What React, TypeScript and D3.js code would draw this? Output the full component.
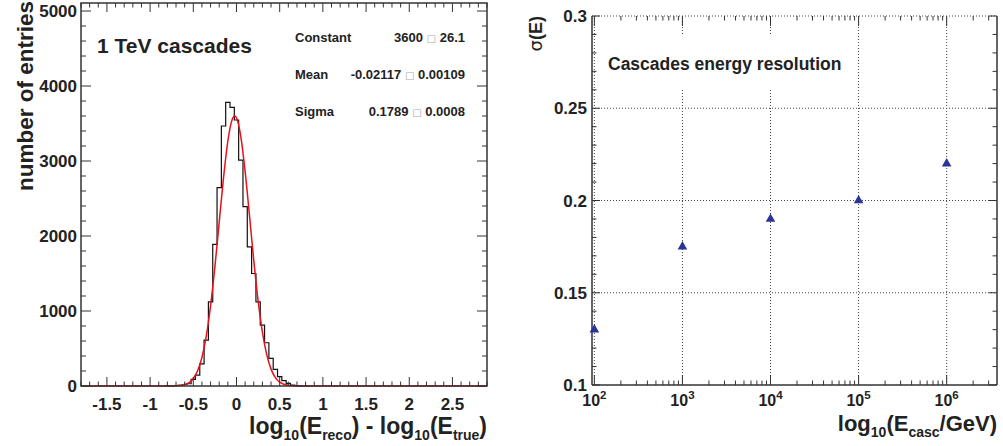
import React from 'react';
import * as d3 from 'd3';

const W = 1003;
const H = 446;
const FONT = '"Liberation Sans", Arial, Helvetica, sans-serif';

// left panel: reco - true for 1 TeV cascades, bins of 0.05
const BIN_W = 0.05;
const binCenters = [-0.8, -0.75, -0.7, -0.65, -0.6, -0.55, -0.5, -0.45, -0.4, -0.35, -0.3, -0.25, -0.2, -0.15, -0.1, -0.05,
  0, 0.05, 0.1, 0.15, 0.2, 0.25, 0.3, 0.35, 0.4, 0.45, 0.5, 0.55, 0.6, 0.65, 0.7, 0.75, 0.8];
const binCounts = [2, 3, 5, 9, 20, 30, 89, 146, 295, 612, 1121, 1888, 2644, 3467, 3782, 3716,
  3547, 3013, 2391, 1855, 1500, 1121, 813, 577, 368, 221, 124, 71, 35, 13, 5, 3, 1];

// red fit curve
const fitX = [-1.8, -0.9, -0.8, -0.7, -0.6, -0.5, -0.45, -0.4, -0.35, -0.3, -0.25, -0.2, -0.15, -0.1, -0.05, -0.02,
  0, 0.05, 0.1, 0.15, 0.2, 0.25, 0.3, 0.35, 0.4, 0.45, 0.5, 0.6, 0.7, 0.8, 2.9];
const fitY = [0, 0, 0, 3, 19, 100, 203, 382, 665, 1069, 1589, 2185, 2778, 3267, 3554, 3600,
  3575, 3326, 2862, 2278, 1676, 1141, 719, 418, 225, 112, 52, 9, 1, 0, 0];

const histXTicks = [-1.5, -1, -0.5, 0, 0.5, 1, 1.5, 2, 2.5];
const histYTicks = [0, 1000, 2000, 3000, 4000, 5000];

const statNames = ['Constant', 'Mean', 'Sigma'];
const statValues = ['3600', '-0.02117', '0.1789'];
const statErrors = ['26.1', '0.00109', '0.0008'];

// right panel: energy resolution
const energies = [1e2, 1e3, 1e4, 1e5, 1e6];
const sigmas = [0.13, 0.175, 0.19, 0.2, 0.22];
const decades = [2, 3, 4, 5, 6];
const sigmaTicks = [0.1, 0.15, 0.2, 0.25, 0.3];

const L = { left: 81, right: 487, top: 3, bottom: 386 };
const R = { left: 592, right: 997, top: 16, bottom: 385 };

const AXIS = '#333';
const GRID = '#444';

const HistPanel = () => {
  const x = d3.scaleLinear().domain([-1.8, 2.9]).range([L.left, L.right]);
  const y = d3.scaleLinear().domain([0, 5107]).range([L.bottom, L.top]);

  const pts: [number, number][] = [[binCenters[0] - BIN_W / 2, 0]];
  binCenters.forEach((c, i) => pts.push([c - BIN_W / 2, binCounts[i]]));
  pts.push([binCenters[binCenters.length - 1] + BIN_W / 2, 0]);
  const histPath = d3.line<[number, number]>()
    .x(d => x(d[0]))
    .y(d => y(d[1]))
    .curve(d3.curveStepAfter)(pts);

  const fitPath = d3.line<number>()
    .x(d => x(d))
    .y((d, i) => y(fitY[i]))
    .curve(d3.curveMonotoneX)(fitX);

  const xMinor = d3.range(-18, 30).map(i => i / 10);
  const yMinor = d3.range(0, 5001, 200);
  const isHalf = (v: number) => Math.abs(v * 2 - Math.round(v * 2)) < 1e-6;

  return (
    <g fontFamily={FONT} fontWeight="bold" fill="#222">
      <path d={histPath || ''} fill="none" stroke="#111" strokeWidth={1.2} />
      <path d={fitPath || ''} fill="none" stroke="#e8101a" strokeWidth={1.5} />

      <rect x={L.left} y={L.top} width={L.right - L.left} height={L.bottom - L.top}
        fill="none" stroke={AXIS} strokeWidth={1.5} />
      {xMinor.map(v => {
        const len = isHalf(v) ? 9 : 4.5;
        return (
          <g key={'xt' + v} stroke={AXIS} strokeWidth={1}>
            <line x1={x(v)} x2={x(v)} y1={L.bottom} y2={L.bottom - len} />
            <line x1={x(v)} x2={x(v)} y1={L.top} y2={L.top + len} />
          </g>
        );
      })}
      {yMinor.map(v => {
        const len = v % 1000 === 0 ? 10 : 5;
        return (
          <g key={'yt' + v} stroke={AXIS} strokeWidth={1}>
            <line x1={L.left} x2={L.left + len} y1={y(v)} y2={y(v)} />
            <line x1={L.right} x2={L.right - len} y1={y(v)} y2={y(v)} />
          </g>
        );
      })}
      {histXTicks.map(v => (
        <text key={'xl' + v} x={x(v)} y={410} textAnchor="middle" fontSize={17}>{String(v)}</text>
      ))}
      {histYTicks.map(v => (
        <text key={'yl' + v} x={77} y={y(v)} dy="0.36em" textAnchor="end" fontSize={17}>{String(v)}</text>
      ))}

      <text transform="translate(33,1) rotate(-90)" textAnchor="end" fontSize={22.5}>number of entries</text>
      <text x={L.right} y={434} textAnchor="end" fontSize={23}>
        log<tspan fontSize={14} dy={6}>10</tspan><tspan dy={-6}>(E</tspan><tspan fontSize={14} dy={6}>reco</tspan>
        <tspan dy={-6}>) - log</tspan><tspan fontSize={14} dy={6}>10</tspan><tspan dy={-6}>(E</tspan>
        <tspan fontSize={14} dy={6}>true</tspan><tspan dy={-6}>)</tspan>
      </text>

      <text x={97} y={53} fontSize={21}>1 TeV cascades</text>
      {statNames.map((n, i) => (
        <g key={n} fontSize={13}>
          <text x={295} y={42 + i * 37}>{n}</text>
          <text x={465} y={42 + i * 37} textAnchor="end">
            {statValues[i]} <tspan fill="#aaa" fontWeight="normal" fontFamily="DejaVu Sans" fontSize={10}>□</tspan> {statErrors[i]}
          </text>
        </g>
      ))}
    </g>
  );
};

const ResolutionPanel = () => {
  const x = d3.scaleLog().domain([94, 3.73e6]).range([R.left, R.right]);
  const y = d3.scaleLinear().domain([0.1, 0.3]).range([R.bottom, R.top]);

  const [lo, hi] = x.domain();
  const logMinor: number[] = [];
  for (let d = 1; d <= 6; d++) {
    for (let m = 1; m <= 9; m++) {
      const v = m * Math.pow(10, d);
      if (v >= lo && v <= hi) logMinor.push(v);
    }
  }
  const yMinor = d3.range(10, 31).map(i => i / 100);
  const tri = d3.symbol(d3.symbolTriangle, 40)();

  return (
    <g fontFamily={FONT} fontWeight="bold" fill="#222">
      <g stroke={GRID} strokeWidth={1} strokeDasharray="1,2">
        {decades.map(d => (
          <line key={'gx' + d} x1={x(Math.pow(10, d))} x2={x(Math.pow(10, d))} y1={R.bottom} y2={R.top} />
        ))}
        {sigmaTicks.slice(1).map(v => (
          <line key={'gy' + v} x1={R.left} x2={R.right} y1={y(v)} y2={y(v)} />
        ))}
      </g>
      <rect x={597} y={34} width={255} height={56} fill="#fff" />
      <text x={608} y={70} fontSize={17.5}>Cascades energy resolution</text>

      <g stroke={AXIS} strokeWidth={1.5} fill="none">
        <line x1={R.left} x2={R.left} y1={R.top} y2={R.bottom} />
        <line x1={R.right} x2={R.right} y1={R.top} y2={R.bottom} />
        <line x1={R.left} x2={R.right} y1={R.bottom} y2={R.bottom} />
      </g>
      {logMinor.map(v => {
        const major = Math.abs(Math.log10(v) - Math.round(Math.log10(v))) < 1e-9;
        const len = major ? 10 : 4.5;
        return (
          <g key={'xt' + v} stroke={AXIS} strokeWidth={1}>
            <line x1={x(v)} x2={x(v)} y1={R.bottom} y2={R.bottom - len} />
            <line x1={x(v)} x2={x(v)} y1={R.top} y2={R.top + len} />
          </g>
        );
      })}
      {yMinor.map(v => {
        const major = Math.abs(v * 20 - Math.round(v * 20)) < 1e-6;
        const len = major ? 8 : 4.5;
        return (
          <g key={'yt' + v} stroke={AXIS} strokeWidth={1}>
            <line x1={R.left} x2={R.left + len} y1={y(v)} y2={y(v)} />
            <line x1={R.right} x2={R.right - len} y1={y(v)} y2={y(v)} />
          </g>
        );
      })}
      {decades.map(d => (
        <text key={'xl' + d} x={x(Math.pow(10, d))} y={406} textAnchor="middle" fontSize={16}>
          10<tspan fontSize={11.5} dy={-7}>{d}</tspan>
        </text>
      ))}
      {sigmaTicks.map(v => (
        <text key={'yl' + v} x={587} y={y(v)} dy="0.36em" textAnchor="end" fontSize={17}>{String(v)}</text>
      ))}

      {energies.map((e, i) => (
        <path key={'p' + e} d={tri || ''} transform={`translate(${x(e)},${y(sigmas[i])})`} fill="#28349a" />
      ))}

      <text transform="translate(542,16) rotate(-90)" textAnchor="end" fontSize={18}>
        <tspan fontWeight="normal" fontFamily="DejaVu Sans">σ</tspan>(E)
      </text>
      <text x={R.right} y={431} textAnchor="end" fontSize={22}>
        log<tspan fontSize={14} dy={6}>10</tspan><tspan dy={-6}>(E</tspan><tspan fontSize={14} dy={6}>casc</tspan>
        <tspan dy={-6}>/GeV)</tspan>
      </text>
    </g>
  );
};

const App = () => (
  <svg width={W} height={H} style={{ position: 'absolute', left: 0, top: 0, background: '#fff' }}>
    <rect width={W} height={H} fill="#fff" />
    <HistPanel />
    <ResolutionPanel />
  </svg>
);

export default App;
